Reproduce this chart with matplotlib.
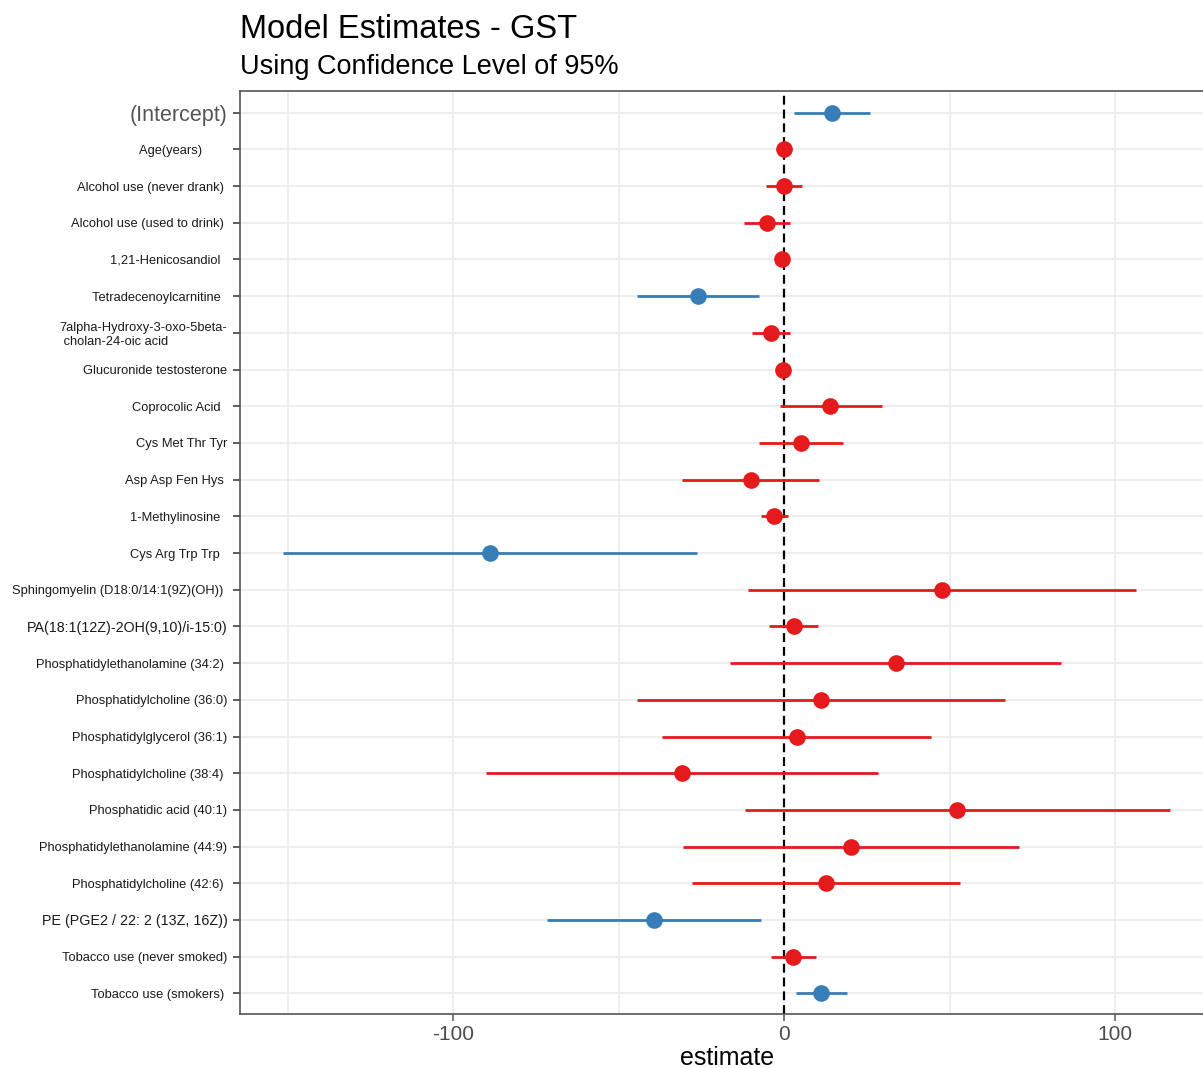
import numpy as np
import matplotlib.pyplot as plt

plt.rcParams['font.family'] = ['Liberation Sans', 'DejaVu Sans']

# term labels, top to bottom (trailing spaces as in the original labels)
terms = [
    '(Intercept)',
    'Age(years)       ',
    'Alcohol use (never drank) ',
    'Alcohol use (used to drink) ',
    '1,21-Henicosandiol  ',
    'Tetradecenoylcarnitine  ',
    '7alpha-Hydroxy-3-oxo-5beta-\n cholan-24-oic acid',
    'Glucuronide testosterone',
    'Coprocolic Acid  ',
    'Cys Met Thr Tyr',
    'Asp Asp Fen Hys ',
    '1-Methylinosine  ',
    'Cys Arg Trp Trp  ',
    'Sphingomyelin (D18:0/14:1(9Z)(OH)) ',
    'PA(18:1(12Z)-2OH(9,10)/i-15:0)',
    'Phosphatidylethanolamine (34:2) ',
    'Phosphatidylcholine (36:0)',
    'Phosphatidylglycerol (36:1)',
    'Phosphatidylcholine (38:4) ',
    'Phosphatidic acid (40:1)',
    'Phosphatidylethanolamine (44:9)',
    'Phosphatidylcholine (42:6) ',
    'PE (PGE2 / 22: 2 (13Z, 16Z))',
    'Tobacco use (never smoked)',
    'Tobacco use (smokers) ',
]
estimate = [14.6, 0.1, 0.1, -5.1, -0.6, -26.1, -3.9, -0.3, 14.0, 5.1, -10.0, -2.9, -88.8,
            47.6, 2.9, 33.9, 11.2, 3.8, -30.8, 52.4, 20.1, 12.8, -39.2, 2.7, 11.2]
conf_low = [3.0, -0.5, -5.4, -12.1, -1.0, -44.3, -9.6, -1.0, -1.3, -7.6, -30.7, -7.0, -151.3,
            -11.0, -4.5, -16.3, -44.4, -37.0, -90.0, -11.8, -30.5, -27.8, -71.6, -4.0, 3.6]
conf_high = [26.0, 0.6, 5.5, 1.9, 0.4, -7.6, 1.9, 0.5, 29.5, 17.7, 10.7, 1.3, -26.4,
             106.5, 10.2, 83.8, 66.9, 44.3, 28.3, 116.5, 70.9, 53.3, -6.9, 9.8, 19.1]

estimate = np.array(estimate)
conf_low = np.array(conf_low)
conf_high = np.array(conf_high)
ypos = np.arange(len(terms))

# significant (CI excludes zero) -> blue, otherwise red
signif = (conf_low > 0) | (conf_high < 0)
colors = np.where(signif, '#377EB8', '#E41A1C')

fig = plt.figure(figsize=(12.03, 10.68), dpi=100)
ax = fig.add_axes([240 / 1203, 1 - 1014.3 / 1068, 1 - 240 / 1203, (1014.3 - 90.7) / 1068])

# grid lines like theme_bw
for gx in [-150, -100, -50, 50, 100]:
    ax.axvline(gx, color='#ebebeb', lw=1.2, zorder=0)
for gy in ypos:
    ax.axhline(gy, color='#ebebeb', lw=1.2, zorder=0)

ax.axvline(0, color='black', lw=1.6, ls=(0, (4, 2.2)), zorder=1)

for i in range(len(terms)):
    ax.plot([conf_low[i], conf_high[i]], [ypos[i], ypos[i]], color=colors[i], lw=2.0,
            solid_capstyle='butt', zorder=2)
    ax.plot(estimate[i], ypos[i], 'o', color=colors[i], ms=12, mec='none', zorder=3)

ax.set_xlim(-164.4, 126.6)
ax.set_ylim(len(terms) - 0.43, -0.6)

ax.set_xticks([-100, 0, 100])
ax.set_xticklabels(['-100', '0', '100'])
ax.set_yticks(ypos)
ax.set_yticklabels(terms, multialignment='left')

ax.tick_params(axis='x', length=5, width=1.1, color='#555555', labelsize=15,
               labelcolor='#4d4d4d', pad=3)
ax.tick_params(axis='y', length=5, width=1.1, color='#333333', labelsize=9.3,
               labelcolor='#1a1a1a', pad=4)

for lab in ax.get_yticklabels():
    txt = lab.get_text()
    if txt == '(Intercept)':
        lab.set_fontsize(15.5)
        lab.set_color('#555555')
    elif txt.startswith('PA(') or txt.startswith('PE ('):
        lab.set_fontsize(10.3)

for side in ['left', 'top', 'bottom']:
    ax.spines[side].set_color('#555555')
    ax.spines[side].set_linewidth(1.2)
ax.spines['right'].set_visible(False)

ax.set_xlabel('estimate', fontsize=18)
ax.xaxis.set_label_coords(0.506, -0.034)

fig.text(240 / 1203, 1 - 38 / 1068, 'Model Estimates - GST', fontsize=23.5, va='baseline', ha='left')
fig.text(240 / 1203, 1 - 74 / 1068, 'Using Confidence Level of 95%', fontsize=19.5, va='baseline', ha='left')

fig.savefig('out.png', dpi=100)
